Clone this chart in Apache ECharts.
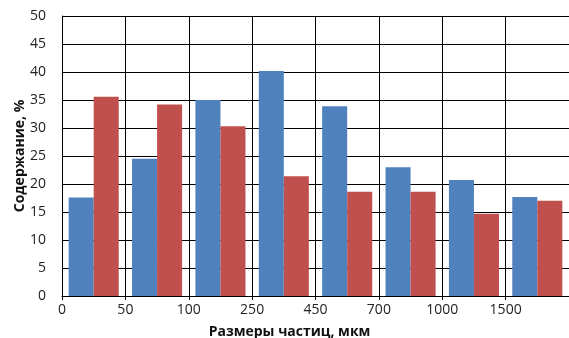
<!DOCTYPE html>
<html>
<head>
<meta charset="utf-8">
<script src="https://cdn.jsdelivr.net/npm/echarts@6/dist/echarts.min.js"></script>
<style>html,body{margin:0;padding:0;background:#fff}#c{width:569px;height:338px}</style>
</head>
<body>
<div id="c"></div>
<script>
const categories = ['0-50', '50-100', '100-250', '250-450', '450-700', '700-1000', '1000-1500', '>1500'];
const tickLabels = ['0', '50', '100', '250', '450', '700', '1000', '1500'];
const seriesBlue = [17.6, 24.5, 35.0, 40.2, 33.9, 23.0, 20.7, 17.7];
const seriesRed = [35.6, 34.2, 30.3, 21.4, 18.6, 18.6, 14.7, 17.0];
const yTicks = { min: 0, max: 50, interval: 5 };

const font = 'Open Sans';
const chart = echarts.init(document.getElementById('c'), null, { renderer: 'canvas' });
chart.setOption({
  animation: false,
  backgroundColor: '#fff',
  grid: { left: 62, right: 0, top: 16, bottom: 42, containLabel: false, outerBoundsMode: 'none' },
  xAxis: [
    { type: 'category', data: categories, show: false, boundaryGap: true, gridIndex: 0 },
    {
      type: 'value', gridIndex: 0, position: 'bottom', min: 0, max: categories.length, interval: 1,
      axisLine: { show: true, lineStyle: { color: '#000', width: 1 } },
      axisTick: { show: true, length: 4, lineStyle: { color: '#000' } },
      splitLine: { show: true, lineStyle: { color: '#000', width: 1 } },
      axisLabel: {
        show: true, margin: 7, fontSize: 14, color: '#222', fontFamily: font,
        showMaxLabel: false,
        formatter: v => (tickLabels[v] !== undefined ? tickLabels[v] : '')
      },
      name: 'Размеры частиц, мкм', nameLocation: 'middle', nameGap: 29,
      nameTextStyle: { fontSize: 14, fontWeight: 'bold', color: '#111', fontFamily: font, padding: [0, 52, 0, 0] }
    }
  ],
  yAxis: {
    type: 'value', min: yTicks.min, max: yTicks.max, interval: yTicks.interval,
    axisLine: { show: true, lineStyle: { color: '#000', width: 1 } },
    axisTick: { show: false },
    splitLine: { show: true, lineStyle: { color: '#000', width: 1 } },
    axisLabel: { margin: 16, fontSize: 14, color: '#222', fontFamily: font },
    name: 'Содержание, %', nameLocation: 'middle', nameGap: 35, nameRotate: 90, nameMoveOverlap: false,
    nameTextStyle: { fontSize: 14, fontWeight: 'bold', color: '#111', fontFamily: font }
  },
  series: [
    { type: 'bar', xAxisIndex: 0, data: seriesBlue, barGap: '0%', barCategoryGap: '21%', itemStyle: { color: '#4F81BD' }, z: 3 },
    { type: 'bar', xAxisIndex: 0, data: seriesRed, barGap: '0%', barCategoryGap: '21%', itemStyle: { color: '#C0504D' }, z: 3 }
  ]
});
</script>
</body>
</html>
